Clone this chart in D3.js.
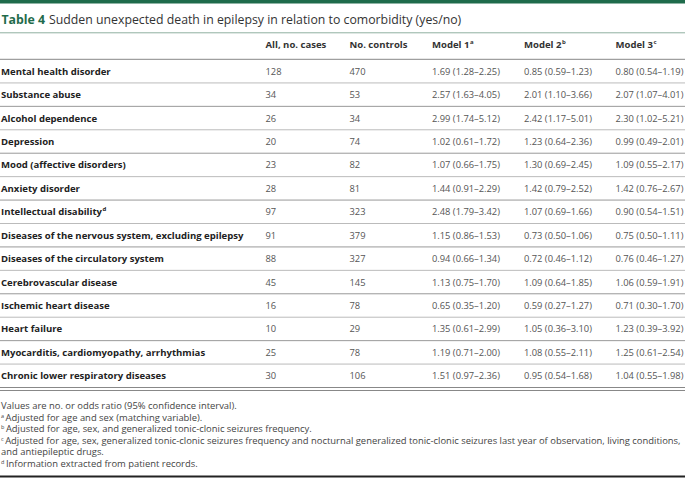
<!DOCTYPE html>
<html><head><meta charset="utf-8">
<script src="https://cdn.jsdelivr.net/npm/d3@7"></script>
<style>body{margin:0;background:#fff}svg{display:block}</style>
</head><body>
<script>
const title = "Sudden unexpected death in epilepsy in relation to comorbidity (yes/no)";
const headers = ["All, no. cases", "No. controls", "Model 1", "Model 2", "Model 3"];
const headerSup = ["", "", "a", "b", "c"];
const categories = ["Mental health disorder","Substance abuse","Alcohol dependence","Depression","Mood (affective disorders)","Anxiety disorder","Intellectual disability","Diseases of the nervous system, excluding epilepsy","Diseases of the circulatory system","Cerebrovascular disease","Ischemic heart disease","Heart failure","Myocarditis, cardiomyopathy, arrhythmias","Chronic lower respiratory diseases"];
const categorySup = ["","","","","","","d","","","","","","",""];
const cases = [128,34,26,20,23,28,97,91,88,45,16,10,25,30];
const controls = [470,53,34,74,82,81,323,379,327,145,78,29,78,106];
const model1 = ["1.69 (1.28–2.25)","2.57 (1.63–4.05)","2.99 (1.74–5.12)","1.02 (0.61–1.72)","1.07 (0.66–1.75)","1.44 (0.91–2.29)","2.48 (1.79–3.42)","1.15 (0.86–1.53)","0.94 (0.66–1.34)","1.13 (0.75–1.70)","0.65 (0.35–1.20)","1.35 (0.61–2.99)","1.19 (0.71–2.00)","1.51 (0.97–2.36)"];
const model2 = ["0.85 (0.59–1.23)","2.01 (1.10–3.66)","2.42 (1.17–5.01)","1.23 (0.64–2.36)","1.30 (0.69–2.45)","1.42 (0.79–2.52)","1.07 (0.69–1.66)","0.73 (0.50–1.06)","0.72 (0.46–1.12)","1.09 (0.64–1.85)","0.59 (0.27–1.27)","1.05 (0.36–3.10)","1.08 (0.55–2.11)","0.95 (0.54–1.68)"];
const model3 = ["0.80 (0.54–1.19)","2.07 (1.07–4.01)","2.30 (1.02–5.21)","0.99 (0.49–2.01)","1.09 (0.55–2.17)","1.42 (0.76–2.67)","0.90 (0.54–1.51)","0.75 (0.50–1.11)","0.76 (0.46–1.27)","1.06 (0.59–1.91)","0.71 (0.30–1.70)","1.23 (0.39–3.92)","1.25 (0.61–2.54)","1.04 (0.55–1.98)"];
const footnotes = [
  ["", "Values are no. or odds ratio (95% confidence interval)."],
  ["a", "Adjusted for age and sex (matching variable)."],
  ["b", "Adjusted for age, sex, and generalized tonic-clonic seizures frequency."],
  ["c", "Adjusted for age, sex, generalized tonic-clonic seizures frequency and nocturnal generalized tonic-clonic seizures last year of observation, living conditions,"],
  ["", "and antiepileptic drugs."],
  ["d", "Information extracted from patient records."]
];

const W = 685, H = 479;
const green = "#1f6b4b";
const font = "'Open Sans', sans-serif";
const svg = d3.select("body").append("svg").attr("width", W).attr("height", H);

function fit(str, target, weight, base) {
  const m = svg.append("text").attr("font-family",font).attr("font-size",base).attr("font-weight",weight).text(str);
  const w = m.node().getComputedTextLength();
  m.remove();
  return base * target / w;
}
const titleSize = fit(title, 413, 400, 13);
const labelSize = fit("Diseases of the nervous system, excluding epilepsy", 243, 700, 10);
const headerSize = labelSize;
const valueSize = fit("0.80 (0.54–1.19)", 68, 400, 10);
const noteSize = fit(footnotes[3][1], 676, 400, 8);

svg.append("rect").attr("x",0).attr("y",0).attr("width",W).attr("height",3.5).attr("fill",green);

svg.append("text").attr("x",1.5).attr("y",24).attr("font-family",font).attr("font-size",titleSize)
  .attr("fill",green).attr("font-weight",700).text("Table 4");
svg.append("text").attr("x",49).attr("y",24).attr("font-family",font).attr("font-size",titleSize)
  .attr("fill","#333").text(title);

svg.append("line").attr("x1",0).attr("x2",W).attr("y1",32.8).attr("y2",32.8).attr("stroke","#8fb0a0").attr("stroke-width",1);

const colX = d3.scaleOrdinal().domain(d3.range(6)).range([1, 265.5, 349.5, 432, 524, 615.5]);

const hy = 48;
headers.forEach((h,i)=>{
  const tx = svg.append("text").attr("x",colX(i+1)).attr("y",hy).attr("font-family",font).attr("font-size",headerSize).attr("font-weight",700).attr("fill","#333").text(h);
  if (headerSup[i]) tx.append("tspan").attr("font-size",6).attr("dy",-4).attr("dx",0.5).text(headerSup[i]);
});
svg.append("line").attr("x1",0).attr("x2",W).attr("y1",59.3).attr("y2",59.3).attr("stroke","#888").attr("stroke-width",1);

const y = d3.scaleBand().domain(categories).range([59.5, 387.5]);

const rows = svg.selectAll("g.row").data(categories).join("g").attr("class","row")
  .attr("transform", d=>`translate(0,${y(d)})`);

rows.append("line").attr("x1",0).attr("x2",W).attr("y1",y.bandwidth()).attr("y2",y.bandwidth())
  .attr("stroke",(d,i)=> i===categories.length-1 ? "#888" : (i%2===0 ? "#bbb" : "#999")).attr("stroke-width",1);

rows.each(function(d,i){
  const g = d3.select(this);
  const cy = y.bandwidth()/2 + 3.5;
  const lab = g.append("text").attr("x",colX(0)).attr("y",cy).attr("font-family",font).attr("font-size",labelSize).attr("font-weight",700).attr("fill","#222").text(d);
  if (categorySup[i]) lab.append("tspan").attr("font-size",6).attr("dy",-4).attr("dx",0.5).text(categorySup[i]);
  [cases[i], controls[i], model1[i], model2[i], model3[i]].forEach((v,j)=>{
    g.append("text").attr("x",colX(j+1)).attr("y",cy).attr("font-family",font).attr("font-size",valueSize).attr("fill","#555").text(v);
  });
});

svg.append("line").attr("x1",0).attr("x2",W).attr("y1",390.5).attr("y2",390.5).attr("stroke","#888").attr("stroke-width",1);

const fy = d3.scaleLinear().domain([0,5]).range([409, 467]);
footnotes.forEach((f,i)=>{
  const tx = svg.append("text").attr("x",1).attr("y",fy(i)).attr("font-family",font).attr("font-size",noteSize).attr("fill","#444");
  if (f[0]) tx.append("tspan").attr("font-size",5.5).attr("dy",-3).text(f[0]);
  tx.append("tspan").attr("dy", f[0]?3:0).attr("dx", f[0]?1.5:0).text(f[1]);
});

svg.append("rect").attr("x",0).attr("y",475.5).attr("width",W).attr("height",2).attr("fill","#222");
</script>
</body></html>
